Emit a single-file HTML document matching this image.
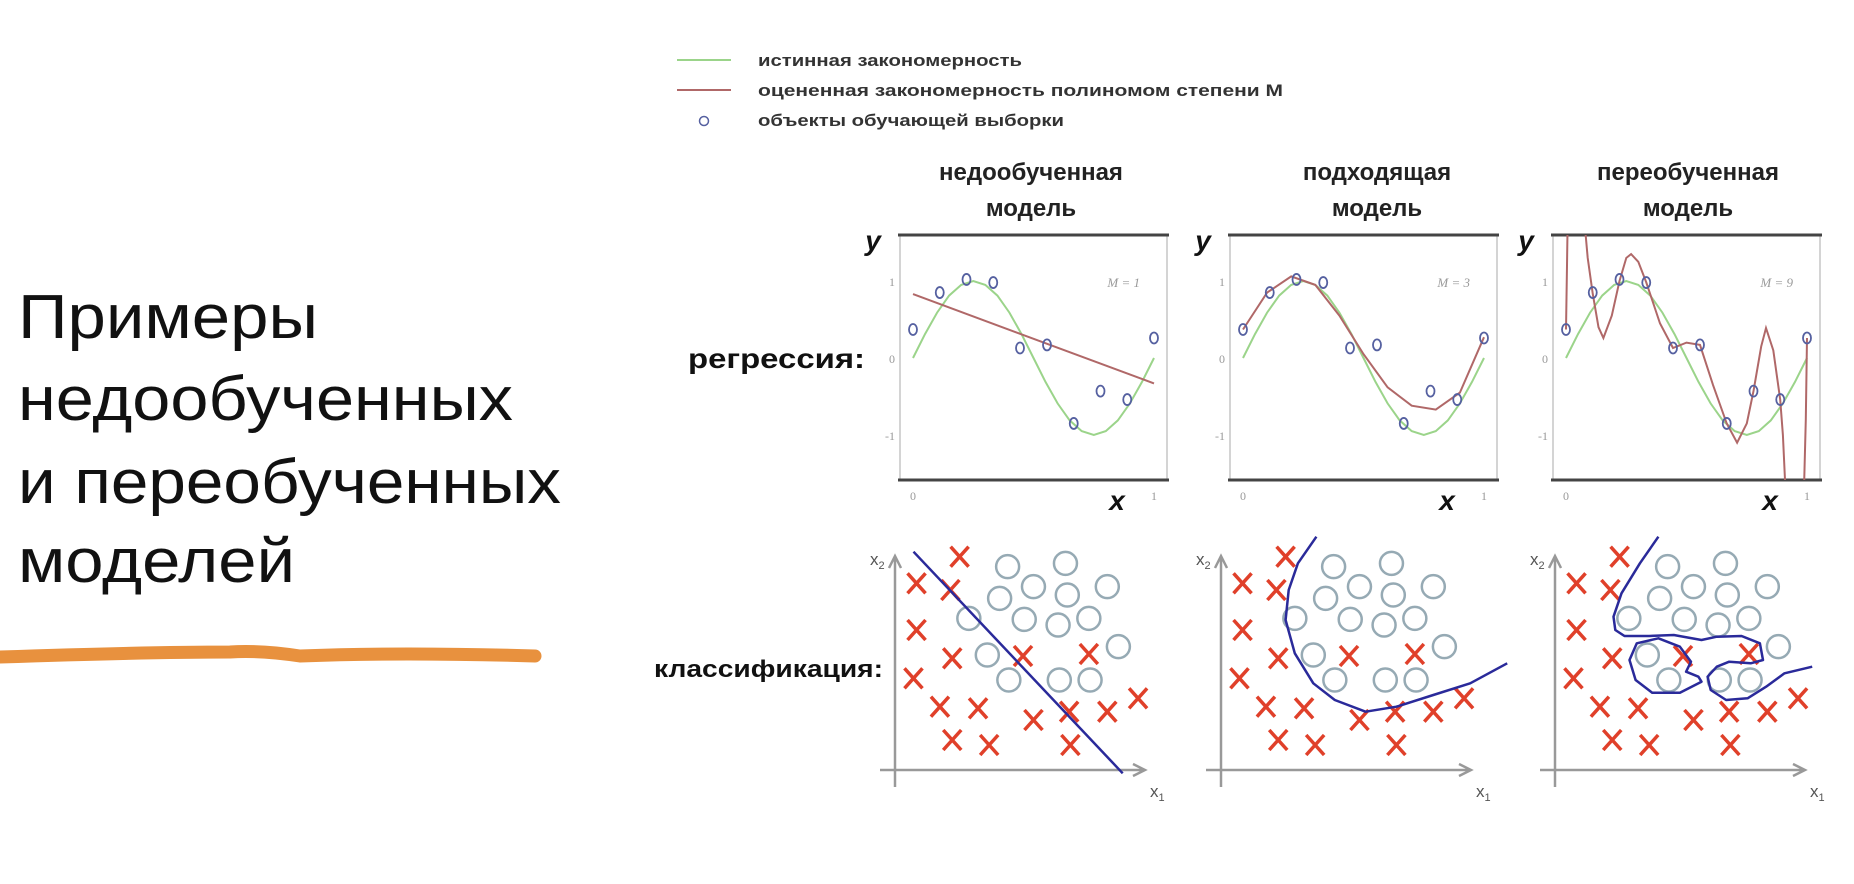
<!DOCTYPE html>
<html><head><meta charset="utf-8"><style>
html,body{margin:0;padding:0;background:#fff;}
svg{display:block;}
.t{font-family:"Liberation Sans","Noto Sans CJK SC",sans-serif;}
</style></head><body>
<svg id="root" width="1854" height="884" viewBox="0 0 1854 884" xmlns="http://www.w3.org/2000/svg">
<g class="t" font-size="62" fill="#111">
<text x="18" y="338" textLength="300" lengthAdjust="spacingAndGlyphs">Примеры</text>
<text x="18" y="420" textLength="495" lengthAdjust="spacingAndGlyphs">недообученных</text>
<text x="18" y="503" textLength="543" lengthAdjust="spacingAndGlyphs">и переобученных</text>
<text x="18" y="582" textLength="277" lengthAdjust="spacingAndGlyphs">моделей</text>
</g>
<path d="M0 657 Q150 652 230 652 Q260 650 300 656 Q400 652 535 656" stroke="#e8913e" stroke-width="13" fill="none" stroke-linecap="round"/>
<g class="t" font-size="17" font-weight="bold" fill="#333">
<line x1="677" y1="60" x2="731" y2="60" stroke="#9bd48a" stroke-width="2"/>
<text x="758" y="66" textLength="264" lengthAdjust="spacingAndGlyphs">истинная закономерность</text>
<line x1="677" y1="90" x2="731" y2="90" stroke="#b06868" stroke-width="2"/>
<text x="758" y="96" textLength="525" lengthAdjust="spacingAndGlyphs">оцененная закономерность полиномом степени M</text>
<circle cx="704" cy="121" r="4.5" fill="none" stroke="#5560a0" stroke-width="1.5"/>
<text x="758" y="126" textLength="306" lengthAdjust="spacingAndGlyphs">объекты обучающей выборки</text>
</g>
<g class="t" font-size="24" font-weight="bold" fill="#222" text-anchor="middle">
<text x="1031" y="180">недообученная</text><text x="1031" y="216">модель</text>
<text x="1377" y="180">подходящая</text><text x="1377" y="216">модель</text>
<text x="1688" y="180">переобученная</text><text x="1688" y="216">модель</text>
</g>
<text class="t" x="688" y="368" font-size="28" font-weight="bold" fill="#111" textLength="177" lengthAdjust="spacingAndGlyphs">регрессия:</text>
<text class="t" x="654" y="677" font-size="24" font-weight="bold" fill="#111" textLength="229" lengthAdjust="spacingAndGlyphs">классификация:</text>
<g id="reg"></g>
<g id="cls"></g>
</svg>
<script>
// regression data
const ptX = [0,0.111,0.222,0.333,0.444,0.556,0.667,0.778,0.889,1.0];
const ptY = [0.37,0.85,1.02,0.98,0.13,0.17,-0.85,-0.43,-0.54,0.26];
const trueX = [0,0.05,0.1,0.15,0.2,0.25,0.3,0.35,0.4,0.45,0.5,0.55,0.6,0.65,0.7,0.75,0.8,0.85,0.9,0.95,1];
const trueY = [0,0.31,0.59,0.81,0.95,1,0.95,0.81,0.59,0.31,0,-0.31,-0.59,-0.81,-0.95,-1,-0.95,-0.81,-0.59,-0.31,0];
const fit1X = [0,1];
const fit1Y = [0.83,-0.33];
const fit3X = [0,0.1,0.2,0.3,0.4,0.5,0.6,0.7,0.8,0.9,1];
const fit3Y = [0.37,0.85,1.06,0.95,0.55,0.05,-0.38,-0.62,-0.67,-0.45,0.27];
const fit9X = [0,0.004,0.008,null,0.07,0.09,0.111,0.135,0.155,0.19,0.222,0.25,0.27,0.3,0.333,0.39,0.444,0.5,0.556,0.61,0.667,0.71,0.75,0.778,0.81,0.83,0.86,0.889,0.9,0.915,null,0.985,0.995,1.0];
const fit9Y = [0.37,1.2,2.0,null,2.0,1.3,0.83,0.4,0.26,0.55,1.0,1.3,1.35,1.25,0.98,0.45,0.13,0.2,0.17,-0.35,-0.85,-1.1,-0.85,-0.43,0.15,0.39,0.1,-0.54,-1.0,-2.0,null,-2.0,-0.8,0.26];
const mLabels = ["M = 1","M = 3","M = 9"];
const yTicks = [1,0,-1];
const xTicks = [0,1];
// classification data
const crossX1 = [105,35,90,35,93,208,315,30,73,135,225,283,345,395,93,153,285];
const crossX2 = [640,560,540,420,335,342,348,275,190,185,150,175,175,215,90,75,75];
const circX1 = [183,277,225,280,345,170,120,210,265,315,363,150,185,267,317];
const circX2 = [610,620,550,525,550,515,455,452,435,455,370,345,270,270,270];
const b1X1 = [30,370]; const b1X2 = [655,-10];
const b2X1 = [155,125,110,105,120,150,185,235,285,345,405,465];
const b2X2 = [700,620,540,450,350,260,210,175,190,225,260,320];
const b3X1 = [168,138,108,95,98,113,153,193,238,263,303,333,338,318,283,263,248,253,278,313,343,373,418];
const b3X2 = [700,620,530,460,420,402,402,405,390,400,402,380,330,320,325,310,280,240,210,215,250,290,310];
const l3X1 = [238,203,158,131,121,133,168,203,221,213,233,238];
const l3X2 = [265,232,232,270,330,380,395,370,325,295,280,265];

const NS="http://www.w3.org/2000/svg";
function mk(tag,attrs,parent){const e=document.createElementNS(NS,tag);for(const k in attrs)e.setAttribute(k,attrs[k]);parent.appendChild(e);return e;}
const reg=document.getElementById('reg');
const offs=[0,330,653];
const fits=[[fit1X,fit1Y],[fit3X,fit3Y],[fit9X,fit9Y]];
function sx(o,x){return 913+o+x*241;}
function sy(y){return 358-y*77;}
function pathOf(o,xs,ys){let d="",pen=false;for(let i=0;i<xs.length;i++){if(xs[i]===null){pen=false;continue;}d+=(pen?"L":"M")+sx(o,xs[i]).toFixed(1)+" "+sy(ys[i]).toFixed(1)+" ";pen=true;}return d;}
offs.forEach((o,p)=>{
  const g=mk('g',{},reg);
  
  
  const cid='clip'+p;
  const cp=mk('clipPath',{id:cid},g);mk('rect',{x:900+o,y:235,width:267,height:245},cp);
  const l=mk('line',{x1:900+o,y1:235,x2:900+o,y2:480,stroke:'#aaa','stroke-width':1},g);
  
  const r=mk('line',{x1:1167+o,y1:235,x2:1167+o,y2:480,stroke:'#aaa','stroke-width':1},g);
  
  const tp=mk('line',{x1:898+o,y1:235,x2:1169+o,y2:235,stroke:'#444','stroke-width':3},g);
  
  const bt=mk('line',{x1:898+o,y1:480,x2:1169+o,y2:480,stroke:'#444','stroke-width':3},g);
  
  yTicks.forEach(v=>{const t=mk('text',{x:895+o,y:sy(v)+5,'font-size':12,'font-family':'Liberation Serif, serif',fill:'#999','text-anchor':'end'},g);t.textContent=v===-1?'-1':String(v);
    });
  xTicks.forEach(v=>{const t=mk('text',{x:sx(o,v),y:500,'font-size':12,'font-family':'Liberation Serif, serif',fill:'#999','text-anchor':'middle'},g);t.textContent=String(v);
    });
  const ml=mk('text',{x:1140+o,y:287,'font-size':13,'font-family':'Liberation Serif, serif','font-style':'italic',fill:'#999','text-anchor':'end'},g);ml.textContent=mLabels[p];
  
  const yl=mk('text',{x:873+o,y:250,'font-size':28,'font-weight':'bold','font-style':'italic','font-family':'Liberation Sans, sans-serif',fill:'#111','text-anchor':'middle'},g);yl.textContent='y';
  
  const xl=mk('text',{x:1117+o,y:510,'font-size':28,'font-weight':'bold','font-style':'italic','font-family':'Liberation Sans, sans-serif',fill:'#111','text-anchor':'middle'},g);xl.textContent='x';
  
  const gc=mk('g',{'clip-path':'url(#'+cid+')'},g);
  const tr=mk('path',{d:pathOf(o,trueX,trueY),fill:'none',stroke:'#9bd48a','stroke-width':2},gc);
  
  const ft=mk('path',{d:pathOf(o,fits[p][0],fits[p][1]),fill:'none',stroke:'#b06868','stroke-width':2},gc);
  
  ptX.forEach((x,i)=>{const c=mk('ellipse',{cx:sx(o,x),cy:sy(ptY[i]),rx:4,ry:5.5,fill:'none',stroke:'#5560a0','stroke-width':1.8},g);
    });
});
const cls=document.getElementById('cls');
const coffs=[0,326,660];
function cx(o,v){return 895+o+v/1.625;}
function cy(v){return 770-v/3;}
function cpath(o,a,b,close){let d="";for(let i=0;i<a.length;i++){d+=(i?"L":"M")+cx(o,a[i]).toFixed(1)+" "+cy(b[i]).toFixed(1)+" ";}return d+(close?"Z":"");}
const bounds=[[[b1X1,b1X2,false]],[[b2X1,b2X2,false]],[[b3X1,b3X2,false],[l3X1,l3X2,true]]];
coffs.forEach((o,p)=>{
  const g=mk('g',{},cls);
  
  
  const ya=mk('path',{d:`M${895+o} 787 L${895+o} 558 M${889+o} 568 L${895+o} 556 L${901+o} 568`,stroke:'#999','stroke-width':2.5,fill:'none'},g);
  
  const xa=mk('path',{d:`M${880+o} 770 L${1143+o} 770 M${1133+o} 764 L${1145+o} 770 L${1133+o} 776`,stroke:'#999','stroke-width':2.5,fill:'none'},g);
  
  const t2=mk('text',{x:870+o,y:565,'font-size':17,'font-family':'Liberation Sans, sans-serif',fill:'#555'},g);t2.innerHTML='x<tspan font-size="11" dy="4">2</tspan>';
  
  const t1=mk('text',{x:1150+o,y:797,'font-size':17,'font-family':'Liberation Sans, sans-serif',fill:'#555'},g);t1.innerHTML='x<tspan font-size="11" dy="4">1</tspan>';
  
  circX1.forEach((a,i)=>{const c=mk('circle',{cx:cx(o,a),cy:cy(circX2[i]),r:11.5,fill:'none',stroke:'#96aab4','stroke-width':2.5},g);
    });
  crossX1.forEach((a,i)=>{const X=cx(o,a),Y=cy(crossX2[i]);
    const c=mk('path',{d:`M${X-9} ${Y-10} L${X+9} ${Y+10} M${X+9} ${Y-10} L${X-9} ${Y+10}`,stroke:'#e0402a','stroke-width':3.5,fill:'none'},g);
    });
  bounds[p].forEach(bd=>{const b=mk('path',{d:cpath(o,bd[0],bd[1],bd[2]),stroke:'#2a2a9a','stroke-width':2.5,fill:'none','stroke-linejoin':'round'},g);
    });
});
</script>
</body></html>
